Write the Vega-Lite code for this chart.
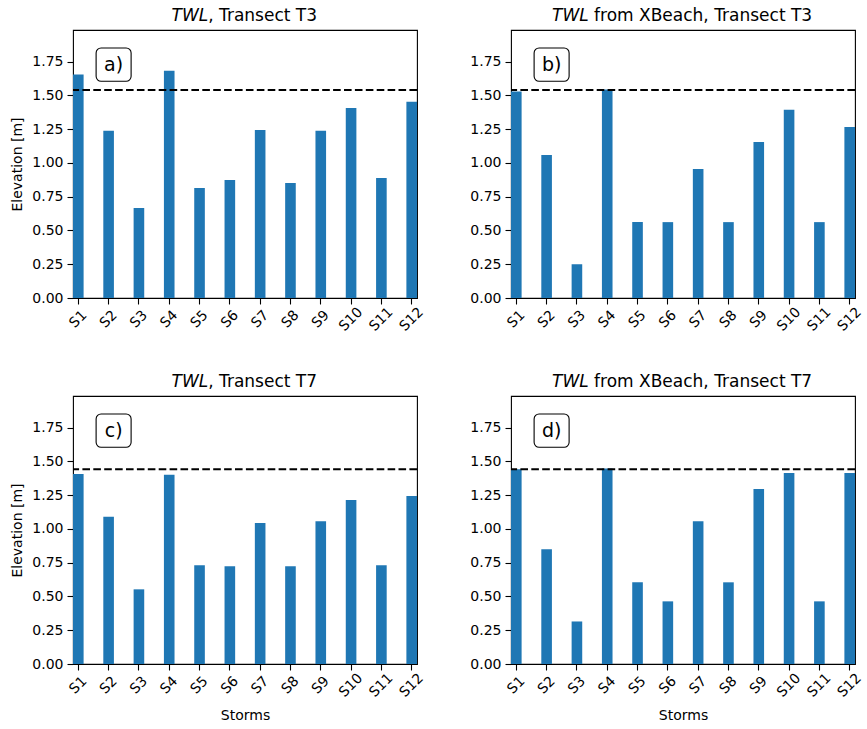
{
  "$schema": "https://vega.github.io/schema/vega-lite/v6.json",
  "padding": {"left": 10, "top": 5, "right": 0, "bottom": 5},
  "background": "white",
  "datasets": {
    "twl": [
      {"panel": "a", "storm": "S1", "elevation": 1.656},
      {"panel": "a", "storm": "S2", "elevation": 1.238},
      {"panel": "a", "storm": "S3", "elevation": 0.666},
      {"panel": "a", "storm": "S4", "elevation": 1.683},
      {"panel": "a", "storm": "S5", "elevation": 0.814},
      {"panel": "a", "storm": "S6", "elevation": 0.874},
      {"panel": "a", "storm": "S7", "elevation": 1.245},
      {"panel": "a", "storm": "S8", "elevation": 0.851},
      {"panel": "a", "storm": "S9", "elevation": 1.238},
      {"panel": "a", "storm": "S10", "elevation": 1.408},
      {"panel": "a", "storm": "S11", "elevation": 0.889},
      {"panel": "a", "storm": "S12", "elevation": 1.453},
      {"panel": "b", "storm": "S1", "elevation": 1.53},
      {"panel": "b", "storm": "S2", "elevation": 1.059},
      {"panel": "b", "storm": "S3", "elevation": 0.25},
      {"panel": "b", "storm": "S4", "elevation": 1.545},
      {"panel": "b", "storm": "S5", "elevation": 0.562},
      {"panel": "b", "storm": "S6", "elevation": 0.562},
      {"panel": "b", "storm": "S7", "elevation": 0.955},
      {"panel": "b", "storm": "S8", "elevation": 0.562},
      {"panel": "b", "storm": "S9", "elevation": 1.156},
      {"panel": "b", "storm": "S10", "elevation": 1.394},
      {"panel": "b", "storm": "S11", "elevation": 0.562},
      {"panel": "b", "storm": "S12", "elevation": 1.267},
      {"panel": "c", "storm": "S1", "elevation": 1.408},
      {"panel": "c", "storm": "S2", "elevation": 1.091},
      {"panel": "c", "storm": "S3", "elevation": 0.553},
      {"panel": "c", "storm": "S4", "elevation": 1.401},
      {"panel": "c", "storm": "S5", "elevation": 0.731},
      {"panel": "c", "storm": "S6", "elevation": 0.724},
      {"panel": "c", "storm": "S7", "elevation": 1.044},
      {"panel": "c", "storm": "S8", "elevation": 0.724},
      {"panel": "c", "storm": "S9", "elevation": 1.058},
      {"panel": "c", "storm": "S10", "elevation": 1.215},
      {"panel": "c", "storm": "S11", "elevation": 0.731},
      {"panel": "c", "storm": "S12", "elevation": 1.244},
      {"panel": "d", "storm": "S1", "elevation": 1.443},
      {"panel": "d", "storm": "S2", "elevation": 0.85},
      {"panel": "d", "storm": "S3", "elevation": 0.315},
      {"panel": "d", "storm": "S4", "elevation": 1.448},
      {"panel": "d", "storm": "S5", "elevation": 0.605},
      {"panel": "d", "storm": "S6", "elevation": 0.464},
      {"panel": "d", "storm": "S7", "elevation": 1.058},
      {"panel": "d", "storm": "S8", "elevation": 0.605},
      {"panel": "d", "storm": "S9", "elevation": 1.296},
      {"panel": "d", "storm": "S10", "elevation": 1.415},
      {"panel": "d", "storm": "S11", "elevation": 0.464},
      {"panel": "d", "storm": "S12", "elevation": 1.415}
    ],
    "levels": [
      {"panel": "a", "level": 1.54},
      {"panel": "b", "level": 1.54},
      {"panel": "c", "level": 1.443},
      {"panel": "d", "level": 1.443}
    ]
  },
  "columns": 2,
  "spacing": {"row": 98, "column": 94},
  "bounds": "flush",
  "concat": [
    {
      "width": 344,
      "height": 268,
      "layer": [
        {
          "data": {"name": "twl"},
          "transform": [{"filter": "datum.panel === 'a'"}],
          "mark": {"type": "bar", "color": "#1f77b4"},
          "encoding": {
            "x": {"field": "storm", "type": "nominal",
              "scale": {"domain": ["S1","S2","S3","S4","S5","S6","S7","S8","S9","S10","S11","S12"], "paddingInner": 0.65, "paddingOuter": 0},
              "axis": {"orient": "bottom", "title": null, "labelAngle": -45, "labelAlign": "center", "labelBaseline": "middle", "labelPadding": 15, "labelOverlap": false}},
            "y": {"field": "elevation", "type": "quantitative",
              "scale": {"domain": [0, 1.985], "nice": false},
              "axis": {"orient": "left", "title": "Elevation [m]", "values": [0, 0.25, 0.5, 0.75, 1, 1.25, 1.5, 1.75], "format": ".2f", "labelOverlap": false, "titlePadding": 7}}
          }
        },
        {
          "data": {"name": "levels"},
          "transform": [{"filter": "datum.panel === 'a'"}],
          "mark": {"type": "rule", "color": "black", "strokeWidth": 2, "strokeDash": [7.6, 3.3]},
          "encoding": {
            "y": {"field": "level", "type": "quantitative",
              "axis": {"orient": "right", "title": ", Transect T3", "labels": false, "ticks": false, "domain": false, "titleAngle": 0, "titleAlign": "left", "titleBaseline": "alphabetic", "titleX": -209.3, "titleY": -9.6, "titleFontSize": 17}}
          }
        },
        {
          "data": {"values": [{}]},
          "mark": {"type": "bar", "width": 35, "xOffset": 5, "cornerRadius": 5, "fill": "white", "stroke": "black", "strokeWidth": 1.1},
          "encoding": {
            "x": {"datum": "S2", "axis": {"orient": "top", "title": "TWL", "labels": false, "ticks": false, "domain": false, "titleFontStyle": "italic", "titleAlign": "left", "titleBaseline": "alphabetic", "titleX": 98, "titleY": -9.6, "titleFontSize": 17}},
            "y": {"datum": 1.605, "axis": null},
            "y2": {"datum": 1.852}
          }
        },
        {
          "data": {"values": [{}]},
          "mark": {"type": "text", "text": "a)", "fontSize": 19, "xOffset": 5, "align": "center", "baseline": "middle", "color": "black"},
          "encoding": {
            "x": {"datum": "S2", "axis": null},
            "y": {"datum": 1.728, "axis": null}
          }
        }
      ]
    },
    {
      "width": 344,
      "height": 268,
      "layer": [
        {
          "data": {"name": "twl"},
          "transform": [{"filter": "datum.panel === 'b'"}],
          "mark": {"type": "bar", "color": "#1f77b4"},
          "encoding": {
            "x": {"field": "storm", "type": "nominal",
              "scale": {"domain": ["S1","S2","S3","S4","S5","S6","S7","S8","S9","S10","S11","S12"], "paddingInner": 0.65, "paddingOuter": 0},
              "axis": {"orient": "bottom", "title": null, "labelAngle": -45, "labelAlign": "center", "labelBaseline": "middle", "labelPadding": 15, "labelOverlap": false}},
            "y": {"field": "elevation", "type": "quantitative",
              "scale": {"domain": [0, 1.985], "nice": false},
              "axis": {"orient": "left", "title": null, "values": [0, 0.25, 0.5, 0.75, 1, 1.25, 1.5, 1.75], "format": ".2f", "labelOverlap": false}}
          }
        },
        {
          "data": {"name": "levels"},
          "transform": [{"filter": "datum.panel === 'b'"}],
          "mark": {"type": "rule", "color": "black", "strokeWidth": 2, "strokeDash": [7.6, 3.3]},
          "encoding": {
            "y": {"field": "level", "type": "quantitative",
              "axis": {"orient": "right", "title": "from XBeach, Transect T3", "labels": false, "ticks": false, "domain": false, "titleAngle": 0, "titleAlign": "left", "titleBaseline": "alphabetic", "titleX": -261.4, "titleY": -9.6, "titleFontSize": 17}}
          }
        },
        {
          "data": {"values": [{}]},
          "mark": {"type": "bar", "width": 35, "xOffset": 5, "cornerRadius": 5, "fill": "white", "stroke": "black", "strokeWidth": 1.1},
          "encoding": {
            "x": {"datum": "S2", "axis": {"orient": "top", "title": "TWL", "labels": false, "ticks": false, "domain": false, "titleFontStyle": "italic", "titleAlign": "left", "titleBaseline": "alphabetic", "titleX": 40.5, "titleY": -9.6, "titleFontSize": 17}},
            "y": {"datum": 1.605, "axis": null},
            "y2": {"datum": 1.852}
          }
        },
        {
          "data": {"values": [{}]},
          "mark": {"type": "text", "text": "b)", "fontSize": 19, "xOffset": 5, "align": "center", "baseline": "middle", "color": "black"},
          "encoding": {
            "x": {"datum": "S2", "axis": null},
            "y": {"datum": 1.728, "axis": null}
          }
        }
      ]
    },
    {
      "width": 344,
      "height": 268,
      "layer": [
        {
          "data": {"name": "twl"},
          "transform": [{"filter": "datum.panel === 'c'"}],
          "mark": {"type": "bar", "color": "#1f77b4"},
          "encoding": {
            "x": {"field": "storm", "type": "nominal",
              "scale": {"domain": ["S1","S2","S3","S4","S5","S6","S7","S8","S9","S10","S11","S12"], "paddingInner": 0.65, "paddingOuter": 0},
              "axis": {"orient": "bottom", "title": "Storms", "labelAngle": -45, "labelAlign": "center", "labelBaseline": "middle", "labelPadding": 15, "labelOverlap": false, "titlePadding": 9}},
            "y": {"field": "elevation", "type": "quantitative",
              "scale": {"domain": [0, 1.985], "nice": false},
              "axis": {"orient": "left", "title": "Elevation [m]", "values": [0, 0.25, 0.5, 0.75, 1, 1.25, 1.5, 1.75], "format": ".2f", "labelOverlap": false, "titlePadding": 7}}
          }
        },
        {
          "data": {"name": "levels"},
          "transform": [{"filter": "datum.panel === 'c'"}],
          "mark": {"type": "rule", "color": "black", "strokeWidth": 2, "strokeDash": [7.6, 3.3]},
          "encoding": {
            "y": {"field": "level", "type": "quantitative",
              "axis": {"orient": "right", "title": ", Transect T7", "labels": false, "ticks": false, "domain": false, "titleAngle": 0, "titleAlign": "left", "titleBaseline": "alphabetic", "titleX": -209.3, "titleY": -9.6, "titleFontSize": 17}}
          }
        },
        {
          "data": {"values": [{}]},
          "mark": {"type": "bar", "width": 35, "xOffset": 5, "cornerRadius": 5, "fill": "white", "stroke": "black", "strokeWidth": 1.1},
          "encoding": {
            "x": {"datum": "S2", "axis": {"orient": "top", "title": "TWL", "labels": false, "ticks": false, "domain": false, "titleFontStyle": "italic", "titleAlign": "left", "titleBaseline": "alphabetic", "titleX": 98, "titleY": -9.6, "titleFontSize": 17}},
            "y": {"datum": 1.605, "axis": null},
            "y2": {"datum": 1.852}
          }
        },
        {
          "data": {"values": [{}]},
          "mark": {"type": "text", "text": "c)", "fontSize": 19, "xOffset": 5, "align": "center", "baseline": "middle", "color": "black"},
          "encoding": {
            "x": {"datum": "S2", "axis": null},
            "y": {"datum": 1.728, "axis": null}
          }
        }
      ]
    },
    {
      "width": 344,
      "height": 268,
      "layer": [
        {
          "data": {"name": "twl"},
          "transform": [{"filter": "datum.panel === 'd'"}],
          "mark": {"type": "bar", "color": "#1f77b4"},
          "encoding": {
            "x": {"field": "storm", "type": "nominal",
              "scale": {"domain": ["S1","S2","S3","S4","S5","S6","S7","S8","S9","S10","S11","S12"], "paddingInner": 0.65, "paddingOuter": 0},
              "axis": {"orient": "bottom", "title": "Storms", "labelAngle": -45, "labelAlign": "center", "labelBaseline": "middle", "labelPadding": 15, "labelOverlap": false, "titlePadding": 9}},
            "y": {"field": "elevation", "type": "quantitative",
              "scale": {"domain": [0, 1.985], "nice": false},
              "axis": {"orient": "left", "title": null, "values": [0, 0.25, 0.5, 0.75, 1, 1.25, 1.5, 1.75], "format": ".2f", "labelOverlap": false}}
          }
        },
        {
          "data": {"name": "levels"},
          "transform": [{"filter": "datum.panel === 'd'"}],
          "mark": {"type": "rule", "color": "black", "strokeWidth": 2, "strokeDash": [7.6, 3.3]},
          "encoding": {
            "y": {"field": "level", "type": "quantitative",
              "axis": {"orient": "right", "title": "from XBeach, Transect T7", "labels": false, "ticks": false, "domain": false, "titleAngle": 0, "titleAlign": "left", "titleBaseline": "alphabetic", "titleX": -261.4, "titleY": -9.6, "titleFontSize": 17}}
          }
        },
        {
          "data": {"values": [{}]},
          "mark": {"type": "bar", "width": 35, "xOffset": 5, "cornerRadius": 5, "fill": "white", "stroke": "black", "strokeWidth": 1.1},
          "encoding": {
            "x": {"datum": "S2", "axis": {"orient": "top", "title": "TWL", "labels": false, "ticks": false, "domain": false, "titleFontStyle": "italic", "titleAlign": "left", "titleBaseline": "alphabetic", "titleX": 40.5, "titleY": -9.6, "titleFontSize": 17}},
            "y": {"datum": 1.605, "axis": null},
            "y2": {"datum": 1.852}
          }
        },
        {
          "data": {"values": [{}]},
          "mark": {"type": "text", "text": "d)", "fontSize": 19, "xOffset": 5, "align": "center", "baseline": "middle", "color": "black"},
          "encoding": {
            "x": {"datum": "S2", "axis": null},
            "y": {"datum": 1.728, "axis": null}
          }
        }
      ]
    }
  ],
  "config": {
    "font": "DejaVu Sans",
    "view": {"stroke": "black", "strokeWidth": 1.1},
    "axis": {
      "grid": false,
      "domain": false,
      "tickColor": "black",
      "tickSize": 6,
      "tickWidth": 1.1,
      "labelColor": "black",
      "labelFont": "DejaVu Sans",
      "labelFontSize": 14,
      "labelPadding": 4,
      "titleColor": "black",
      "titleFont": "DejaVu Sans",
      "titleFontSize": 14,
      "titleFontWeight": "normal"
    }
  }
}
